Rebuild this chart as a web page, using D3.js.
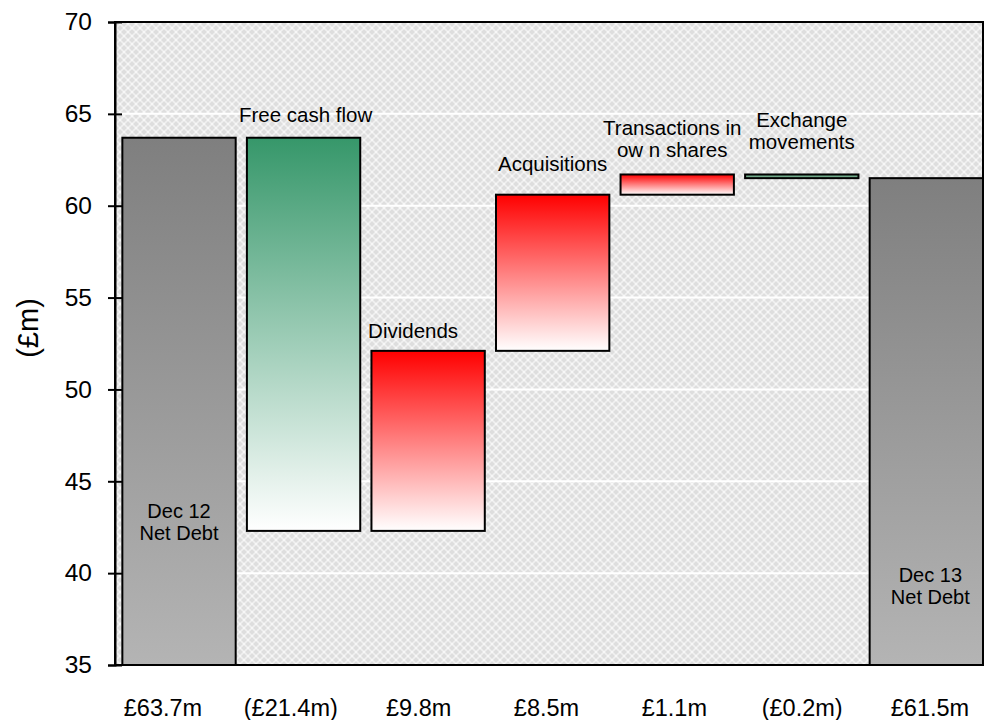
<!DOCTYPE html>
<html>
<head>
<meta charset="utf-8">
<script src="https://cdn.jsdelivr.net/npm/d3@7"></script>
<style>
  html, body { margin: 0; padding: 0; background: #ffffff; }
  svg { display: block; font-family: "Liberation Sans", Arial, sans-serif; }
</style>
</head>
<body>
<svg id="chart" width="984" height="720"></svg>
<script>
// Net debt bridge, Dec 12 to Dec 13 (£m)
const categories = ["Dec 12 Net Debt", "Free cash flow", "Dividends", "Acquisitions",
                    "Transactions in own shares", "Exchange movements", "Dec 13 Net Debt"];
const changes = [63.7, -21.4, 9.8, 8.5, 1.1, -0.2, 61.5];
const kinds = ["total", "decrease", "increase", "increase", "increase", "decrease", "total"];
const valueLabels = ["£63.7m", "(£21.4m)", "£9.8m", "£8.5m", "£1.1m", "(£0.2m)", "£61.5m"];
const barLabels = [["Dec 12", "Net Debt"], ["Free cash flow"], ["Dividends"], ["Acquisitions"],
                   ["Transactions in", "ow n shares"], ["Exchange", "movements"], ["Dec 13", "Net Debt"]];
const yTicks = [35, 40, 45, 50, 55, 60, 65, 70];
const yDomain = [35, 70];
// Height (in £m) at which the text inside each total bar sits
const totalLabelAt = [43.0, null, null, null, null, null, 39.5];

// label placement tweaks (pixels): gap above the bar and sideways nudge
const labelGap = [0, 16, 13, 24, 17, 25, 0];
const labelShift = [0, 2, -15, 0, -5, 0, 4];

const svg = d3.select("#chart");
const plot = { left: 115, right: 983, top: 22, bottom: 665 };

const x = d3.scaleBand()
  .domain(categories)
  .range([plot.left, plot.right])
  .paddingInner(0.09)
  .paddingOuter(0.0295)
  .align(1);

const y = d3.scaleLinear().domain(yDomain).range([plot.bottom, plot.top]);

// waterfall segments
let running = 0;
const bars = categories.map((c, i) => {
  let lo, hi;
  if (kinds[i] === "total") {
    running = changes[i];
    lo = yDomain[0]; hi = changes[i];
  } else {
    const start = running;
    running = +(running + changes[i]).toFixed(2);
    lo = Math.min(start, running); hi = Math.max(start, running);
  }
  return { cat: c, kind: kinds[i], lo, hi, i };
});

// --- defs: background texture and bar gradients
const defs = svg.append("defs");
const pat = defs.append("pattern")
  .attr("id", "lattice").attr("patternUnits", "userSpaceOnUse")
  .attr("width", 8).attr("height", 8);
pat.append("rect").attr("width", 8).attr("height", 8).attr("fill", "#dedede");
pat.append("path").attr("d", "M0,0 L8,8 M8,0 L0,8")
  .attr("stroke", "#f0f0f0").attr("stroke-width", 1.7).attr("fill", "none");
[[4, 4], [0, 0], [8, 8], [0, 8], [8, 0]].forEach(([cx, cy]) =>
  pat.append("circle").attr("cx", cx).attr("cy", cy).attr("r", 1).attr("fill", "#fafafa"));

const gradStops = {
  total: ["#7f7f7f", "#b4b4b4"],
  decrease: ["#36976a", "#ffffff"],
  increase: ["#ff0000", "#ffffff"]
};
Object.entries(gradStops).forEach(([k, [c0, c1]]) => {
  const g = defs.append("linearGradient").attr("id", "grad-" + k)
    .attr("x1", 0).attr("y1", 0).attr("x2", 0).attr("y2", 1);
  g.append("stop").attr("offset", "0%").attr("stop-color", c0);
  g.append("stop").attr("offset", "100%").attr("stop-color", c1);
});
// very thin bars keep a solid, muted tint of their colour
const thin = defs.append("linearGradient").attr("id", "grad-decrease-thin")
  .attr("x1", 0).attr("y1", 0).attr("x2", 0).attr("y2", 1);
thin.append("stop").attr("offset", "0%").attr("stop-color", "#5f9f7c");
thin.append("stop").attr("offset", "100%").attr("stop-color", "#7fb295");

// plot background
svg.append("rect")
  .attr("x", plot.left).attr("y", plot.top)
  .attr("width", plot.right - plot.left).attr("height", plot.bottom - plot.top)
  .attr("fill", "url(#lattice)");

// white horizontal gridlines
svg.append("g").selectAll("line")
  .data(yTicks.filter(t => t > yDomain[0] && t < yDomain[1]))
  .join("line")
  .attr("x1", plot.left).attr("x2", plot.right)
  .attr("y1", d => y(d)).attr("y2", d => y(d))
  .attr("stroke", "#ffffff").attr("stroke-width", 2);

// bars
svg.append("g").selectAll("rect")
  .data(bars)
  .join("rect")
  .attr("x", d => x(d.cat))
  .attr("y", d => y(d.hi))
  .attr("width", x.bandwidth())
  .attr("height", d => y(d.lo) - y(d.hi))
  .attr("fill", d => {
    const h = y(d.lo) - y(d.hi);
    return (d.kind === "decrease" && h < 10) ? "url(#grad-decrease-thin)" : `url(#grad-${d.kind})`;
  })
  .attr("stroke", "#000000")
  .attr("stroke-width", 2);

// frame
svg.append("rect")
  .attr("x", plot.left).attr("y", plot.top)
  .attr("width", plot.right - plot.left).attr("height", plot.bottom - plot.top)
  .attr("fill", "none").attr("stroke", "#000000").attr("stroke-width", 2);

// y axis
const yAxis = d3.axisLeft(y).tickValues(yTicks).tickSize(7).tickPadding(16);
const gy = svg.append("g").attr("transform", `translate(${plot.left},0)`).call(yAxis);
gy.select(".domain").attr("stroke", "#000").attr("stroke-width", 2);
gy.selectAll(".tick line").attr("stroke", "#000").attr("stroke-width", 2).attr("x2", 7).attr("x1", -7);
gy.selectAll(".tick text")
  .attr("font-family", "'Liberation Sans', Arial, sans-serif")
  .attr("font-size", 24.5).attr("fill", "#000");

// axis title
svg.append("text")
  .attr("transform", `translate(38,328) rotate(-90)`)
  .attr("text-anchor", "middle")
  .attr("font-size", 29).attr("fill", "#000")
  .text("(£m)");

// labels above the moving bars, and inside the totals
const lineH = 22;
const above = svg.append("g");
bars.forEach((d, i) => {
  const lines = barLabels[i];
  const cx = x(d.cat) + x.bandwidth() / 2 + labelShift[i];
  if (d.kind === "total") {
    const ty = y(totalLabelAt[i]);
    lines.forEach((t, k) => {
      above.append("text")
        .attr("x", cx).attr("y", ty + k * lineH)
        .attr("text-anchor", "middle").attr("font-size", 20).attr("fill", "#000")
        .text(t);
    });
  } else {
    const base = y(d.hi) - labelGap[i];
    lines.forEach((t, k) => {
      above.append("text")
        .attr("x", cx).attr("y", base - (lines.length - 1 - k) * lineH)
        .attr("text-anchor", "middle").attr("font-size", 20.5).attr("fill", "#000")
        .text(t);
    });
  }
});

// value row under the axis
const xv = d3.scalePoint().domain(categories).range([163, 930]);
svg.append("g").selectAll("text")
  .data(categories)
  .join("text")
  .attr("x", d => xv(d))
  .attr("y", 716)
  .attr("text-anchor", "middle")
  .attr("font-size", 23.5).attr("fill", "#000")
  .text((d, i) => valueLabels[i]);
</script>
</body>
</html>
